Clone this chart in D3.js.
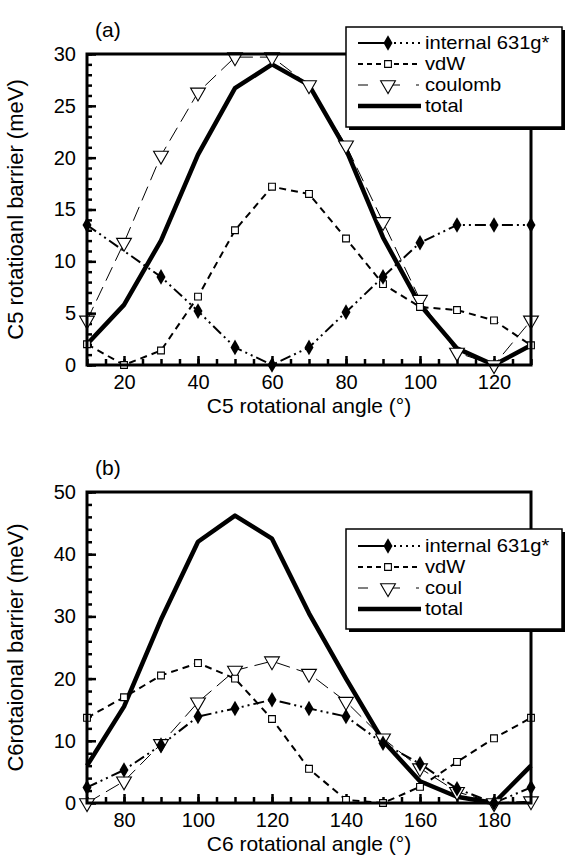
<!DOCTYPE html>
<html><head><meta charset="utf-8">
<script src="https://cdn.jsdelivr.net/npm/d3@7"></script>
<style>body{margin:0;background:#fff}svg{display:block}text{font-family:"Liberation Sans",Arial,Helvetica,sans-serif;fill:#000}</style>
</head><body>
<script>
// ---------- data ----------
const seriesNames = ["internal 631g*", "vdW", "coulomb", "total"];
const seriesNamesB = ["internal 631g*", "vdW", "coul", "total"];

const anglesA = [10,20,30,40,50,60,70,80,90,100,110,120,130];
const internalA = [13.5,null,8.5,5.2,1.7,0,1.7,5.1,8.5,11.8,13.5,13.5,13.5];
const vdwA      = [2.0,0,1.4,6.6,13.0,17.2,16.5,12.2,7.8,5.6,5.3,4.3,1.9];
const coulombA  = [4.3,11.8,20.2,26.3,29.7,29.7,27.0,21.2,13.8,6.3,1.2,0,4.3];
const totalA    = [2.0,5.8,12.0,20.3,26.7,29.0,27.0,20.8,12.3,5.8,1.6,0,1.9];

const anglesB = [70,80,90,100,110,120,130,140,150,160,170,180,190];
const internalB = [2.5,5.3,9.3,13.9,15.2,16.6,15.2,13.9,9.6,6.3,2.3,0,2.5];
const vdwB      = [13.7,17.0,20.5,22.5,20.0,13.5,5.5,0.5,0,2.6,6.6,10.4,13.7];
const coulombB  = [0,3.5,9.5,16.2,21.3,22.8,20.8,16.3,10.4,5.6,1.8,0,0.3];
const totalB    = [6.0,15.5,29.5,42.0,46.2,42.5,30.5,20.0,10.0,3.5,1.0,0,6.0];

const xTicksA = [20,40,60,80,100,120];
const yTicksA = [0,5,10,15,20,25,30];
const xTicksB = [80,100,120,140,160,180];
const yTicksB = [0,10,20,30,40,50];

// ---------- drawing ----------
const W = 567, H = 857;
const FONT = '"Liberation Sans",Arial,sans-serif';
const svg = d3.select("body").append("svg").attr("width", W).attr("height", H);

const styles = [
  {dash:"11,4,2,4,2,4", width:2, marker:"diamond"},
  {dash:"7,5", width:2, marker:"square"},
  {dash:"15,7", width:1, marker:"triangle"},
  {dash:null, width:4.5, marker:null}
];

function marker(g, type, x, y) {
  if (type === "diamond") {
    g.append("path").attr("d", d3.symbol(d3.symbolDiamond, 70)()).attr("transform", `translate(${x},${y})`).attr("fill", "#000");
  } else if (type === "square") {
    g.append("path").attr("d", d3.symbol(d3.symbolSquare, 46)()).attr("transform", `translate(${x},${y})`).attr("fill", "#fff").attr("stroke", "#000").attr("stroke-width", 1.1);
  } else if (type === "triangle") {
    g.append("path").attr("d", d3.symbol(d3.symbolTriangle, 95)()).attr("transform", `translate(${x},${y}) rotate(180)`).attr("fill", "#fff").attr("stroke", "#000").attr("stroke-width", 1.1);
  }
}

function panel(cfg) {
  const g = svg.append("g");
  const x = d3.scaleLinear().domain(cfg.xDomain).range([cfg.left, cfg.right]);
  const y = d3.scaleLinear().domain(cfg.yDomain).range([cfg.bottom, cfg.top]);

  // minor ticks
  g.append("g").attr("transform", `translate(${cfg.left},0)`)
    .call(d3.axisLeft(y).tickValues(d3.range(cfg.yDomain[0], cfg.yDomain[1] + 1e-9, cfg.yMinor)).tickSize(-5).tickFormat(""))
    .call(s => { s.select(".domain").remove(); s.selectAll("line").attr("stroke-width", 2.5); });
  g.append("g").attr("transform", `translate(0,${cfg.bottom})`)
    .call(d3.axisBottom(x).tickValues(d3.range(cfg.xDomain[0], cfg.xDomain[1] + 1e-9, cfg.xMinor)).tickSize(-6).tickFormat(""))
    .call(s => { s.select(".domain").remove(); s.selectAll("line").attr("stroke-width", 2.5); });
  // major ticks
  g.append("g").attr("transform", `translate(${cfg.left},0)`)
    .call(d3.axisLeft(y).tickValues(cfg.yTicks).tickSize(-9).tickPadding(11))
    .call(s => { s.select(".domain").remove(); s.selectAll("line").attr("stroke-width", 2.5);
      s.selectAll("text").attr("font-size", 20).attr("font-family", FONT).attr("fill", "#000"); });
  g.append("g").attr("transform", `translate(0,${cfg.bottom})`)
    .call(d3.axisBottom(x).tickValues(cfg.xTicks).tickSize(-9).tickPadding(10))
    .call(s => { s.select(".domain").remove(); s.selectAll("line").attr("stroke-width", 2.5);
      s.selectAll("text").attr("font-size", 20).attr("font-family", FONT).attr("fill", "#000"); });

  // series lines
  const seriesOrder = [2, 1, 0, 3];
  seriesOrder.forEach(i => {
    const pts = cfg.xs.map((a, k) => [a, cfg.series[i][k]]).filter(p => p[1] !== null);
    const st = styles[i];
    g.append("path").datum(pts)
      .attr("d", d3.line().x(p => x(p[0])).y(p => y(p[1])))
      .attr("fill", "none").attr("stroke", "#000").attr("stroke-width", st.width)
      .attr("stroke-linejoin", "round")
      .attr("stroke-dasharray", st.dash);
  });
  [2, 1, 0].forEach(i => {
    cfg.xs.forEach((a, k) => { const v = cfg.series[i][k]; if (v !== null) marker(g, styles[i].marker, x(a), y(v)); });
  });

  // frame
  g.append("rect").attr("x", cfg.left).attr("y", cfg.top).attr("width", cfg.right - cfg.left).attr("height", cfg.bottom - cfg.top)
    .attr("fill", "none").attr("stroke", "#000").attr("stroke-width", 3);

  // labels
  g.append("text").attr("x", cfg.left + 8).attr("y", cfg.top - 17).attr("font-size", 21).text(cfg.tag);
  g.append("text").attr("x", (cfg.left + cfg.right) / 2).attr("y", cfg.bottom + 48).attr("text-anchor", "middle").attr("font-size", 21).text(cfg.xTitle);
  g.append("text").attr("transform", `translate(23,${(cfg.top + cfg.bottom) / 2}) rotate(-90)`).attr("text-anchor", "middle").attr("font-size", 22).text(cfg.yTitle);

  // legend
  const L = cfg.legend;
  const lg = svg.append("g");
  lg.append("rect").attr("x", L.x).attr("y", L.y).attr("width", L.w).attr("height", L.h).attr("fill", "#fff").attr("stroke", "#000").attr("stroke-width", 1.5);
  lg.append("path").attr("d", `M${L.x + 3},${L.y + L.h + 1.5}H${L.x + L.w + 1.5}V${L.y + 3}`).attr("fill", "none").attr("stroke", "#000").attr("stroke-width", 3);
  cfg.names.forEach((nm, i) => {
    const yy = L.y + L.pad + i * L.step;
    const x0 = L.x + 12, x1 = L.x + 75, xm = L.x + 42;
    const st = styles[i];
    if (i === 0) {
      lg.append("line").attr("x1", x0).attr("x2", xm).attr("y1", yy).attr("y2", yy).attr("stroke", "#000").attr("stroke-width", 2);
      lg.append("line").attr("x1", xm + 6).attr("x2", x1).attr("y1", yy).attr("y2", yy).attr("stroke", "#000").attr("stroke-width", 2).attr("stroke-dasharray", "2,4");
    } else if (i === 1) {
      lg.append("line").attr("x1", x0).attr("x2", x1).attr("y1", yy).attr("y2", yy).attr("stroke", "#000").attr("stroke-width", 2).attr("stroke-dasharray", "5,4");
    } else if (i === 2) {
      lg.append("line").attr("x1", x0).attr("x2", x0 + 10).attr("y1", yy).attr("y2", yy).attr("stroke", "#000").attr("stroke-width", 1);
      lg.append("line").attr("x1", xm).attr("x2", xm + 12).attr("y1", yy).attr("y2", yy).attr("stroke", "#000").attr("stroke-width", 1);
      lg.append("line").attr("x1", x1 - 5).attr("x2", x1 - 2).attr("y1", yy).attr("y2", yy).attr("stroke", "#000").attr("stroke-width", 1);
    } else {
      lg.append("line").attr("x1", x0).attr("x2", x1).attr("y1", yy).attr("y2", yy).attr("stroke", "#000").attr("stroke-width", st.width);
    }
    if (st.marker) marker(lg, st.marker, xm, yy);
    lg.append("text").attr("transform", `translate(${x1 + 4},${yy + 6}) scale(1.12,1)`).attr("font-size", 18).text(nm);
  });
}

panel({
  left: 87, right: 531, top: 54, bottom: 365,
  xDomain: [10, 130], yDomain: [0, 30], xMinor: 5, yMinor: 1,
  xTicks: xTicksA, yTicks: yTicksA, xs: anglesA,
  series: [internalA, vdwA, coulombA, totalA],
  tag: "(a)", xTitle: "C5 rotational angle (°)", yTitle: "C5 rotatioanl barrier (meV)",
  names: seriesNames,
  legend: {x: 346, y: 27, w: 216, h: 100, pad: 16, step: 21}
});
panel({
  left: 87, right: 531, top: 492, bottom: 803,
  xDomain: [70, 190], yDomain: [0, 50], xMinor: 5, yMinor: 2,
  xTicks: xTicksB, yTicks: yTicksB, xs: anglesB,
  series: [internalB, vdwB, coulombB, totalB],
  tag: "(b)", xTitle: "C6 rotational angle (°)", yTitle: "C6rotaional barrier (meV)",
  names: seriesNamesB,
  legend: {x: 346, y: 529, w: 216, h: 100, pad: 17, step: 21}
});
</script>
</body></html>
